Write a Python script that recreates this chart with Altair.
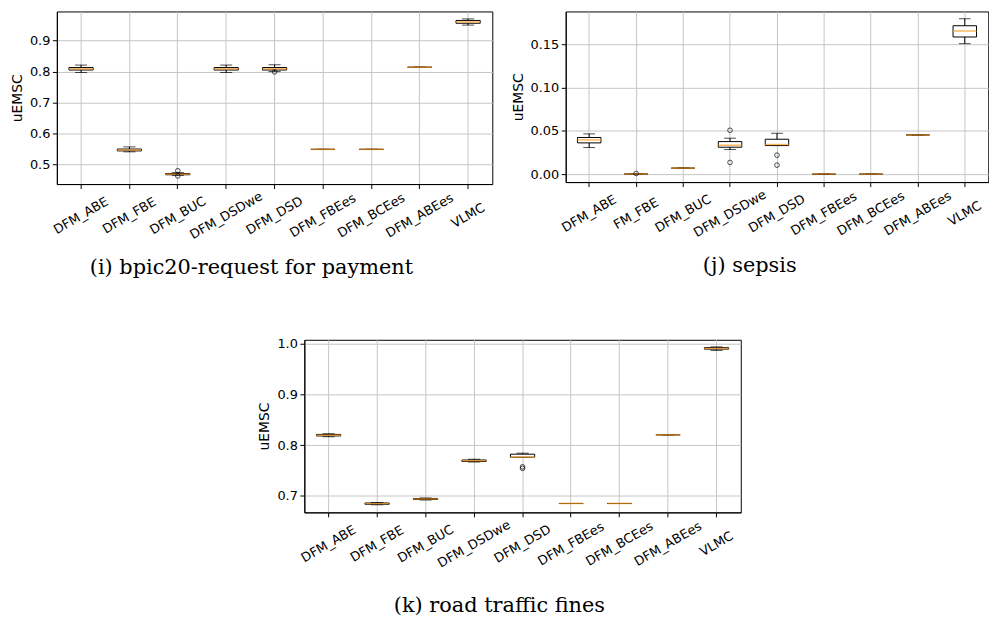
import altair as alt
import pandas as pd

methods_a = ["DFM_ABE", "DFM_FBE", "DFM_BUC", "DFM_DSDwe", "DFM_DSD",
             "DFM_FBEes", "DFM_BCEes", "DFM_ABEes", "VLMC"]
methods_b = ["DFM_ABE", "FM_FBE", "DFM_BUC", "DFM_DSDwe", "DFM_DSD",
             "DFM_FBEes", "DFM_BCEes", "DFM_ABEes", "VLMC"]

# (i) bpic20-request for payment
bp_lo = [0.797, 0.541, 0.465, 0.797, 0.800, 0.549, 0.549, 0.814, 0.950]
bp_q1 = [0.805, 0.544, 0.467, 0.805, 0.805, 0.549, 0.549, 0.814, 0.956]
bp_med = [0.809, 0.547, 0.469, 0.809, 0.809, 0.549, 0.549, 0.814, 0.960]
bp_q3 = [0.813, 0.550, 0.471, 0.813, 0.813, 0.549, 0.549, 0.814, 0.965]
bp_hi = [0.821, 0.557, 0.474, 0.821, 0.822, 0.549, 0.549, 0.814, 0.970]
bp_out_m = ["DFM_BUC", "DFM_BUC", "DFM_DSD"]
bp_out_v = [0.480, 0.463, 0.799]

# (j) sepsis
se_lo = [0.0307, 0.0, 0.0069, 0.0284, 0.0330, 0.0, 0.0, 0.0453, 0.1508]
se_q1 = [0.0361, 0.0, 0.0069, 0.0311, 0.0330, 0.0, 0.0, 0.0453, 0.1585]
se_med = [0.0396, 0.0, 0.0069, 0.0334, 0.0342, 0.0, 0.0, 0.0453, 0.1654]
se_q3 = [0.0423, 0.0003, 0.0069, 0.0376, 0.0403, 0.0, 0.0, 0.0453, 0.1715]
se_hi = [0.0465, 0.0003, 0.0069, 0.0415, 0.0472, 0.0, 0.0, 0.0453, 0.1796]
se_out_m = ["FM_FBE", "DFM_DSDwe", "DFM_DSDwe", "DFM_DSD", "DFM_DSD"]
se_out_v = [0.0008, 0.0507, 0.0135, 0.0219, 0.0104]

# (k) road traffic fines
rt_lo = [0.8165, 0.6820, 0.6915, 0.7665, 0.7755, 0.6846, 0.6846, 0.8203, 0.9870]
rt_q1 = [0.8180, 0.6830, 0.6925, 0.7675, 0.7760, 0.6846, 0.6846, 0.8203, 0.9895]
rt_med = [0.8195, 0.6843, 0.6935, 0.7690, 0.7762, 0.6846, 0.6846, 0.8203, 0.9908]
rt_q3 = [0.8210, 0.6855, 0.6945, 0.7705, 0.7820, 0.6846, 0.6846, 0.8203, 0.9925]
rt_hi = [0.8225, 0.6865, 0.6955, 0.7720, 0.7840, 0.6846, 0.6846, 0.8203, 0.9940]
rt_out_m = ["DFM_DSD", "DFM_DSD"]
rt_out_v = [0.7570, 0.7540]

MEDIAN = "#ff9a1f"
GRID = "#c4c4c4"


def panel(methods, lo, q1, med, q3, hi, out_m, out_v, ticks, fmt, domain,
          width, height, caption, cap_offset):
    df = pd.DataFrame({"m": methods, "lo": lo, "q1": q1, "med": med,
                       "q3": q3, "hi": hi})
    dout = pd.DataFrame({"m": out_m, "v": out_v})
    band = width / len(methods)
    x = alt.X("m:N", sort=methods,
              scale=alt.Scale(paddingInner=0, paddingOuter=0),
              axis=alt.Axis(title=None, labelAngle=-30, labelAlign="center",
                            labelBaseline="middle", labelPadding=27,
                            bandPosition=0.5, grid=True))
    yax = alt.Axis(title="uEMSC", values=ticks, format=fmt, grid=True)
    ysc = alt.Scale(domain=domain, nice=False, zero=False)

    def Y(f):
        return alt.Y(f + ":Q", scale=ysc, axis=yax)

    base = alt.Chart(df)
    whisk = base.mark_rule(color="black", strokeWidth=1).encode(
        x=x, y=Y("lo"), y2="hi:Q")
    cap_lo = base.mark_tick(color="black", size=band * 0.25,
                            thickness=1).encode(x=x, y=Y("lo"))
    cap_hi = base.mark_tick(color="black", size=band * 0.25,
                            thickness=1).encode(x=x, y=Y("hi"))
    box = base.mark_bar(fill="white", stroke="black", strokeWidth=1,
                        size=band * 0.5).encode(x=x, y=Y("q1"), y2="q3:Q")
    medl = base.mark_tick(color=MEDIAN, size=band * 0.5,
                          thickness=1.5).encode(x=x, y=Y("med"))
    outl = alt.Chart(dout).mark_point(shape="circle", filled=False,
                                      color="black", size=22,
                                      strokeWidth=1).encode(
        x=x, y=alt.Y("v:Q", scale=ysc, axis=yax))
    return alt.layer(whisk, cap_lo, cap_hi, box, medl, outl).properties(
        width=width, height=height,
        title=alt.TitleParams(caption, orient="bottom", font="DejaVu Serif",
                              fontSize=21, fontWeight="normal", color="black",
                              offset=cap_offset, anchor="middle",
                              frame="bounds"))


p1 = panel(methods_a, bp_lo, bp_q1, bp_med, bp_q3, bp_hi, bp_out_m, bp_out_v,
           [0.5, 0.6, 0.7, 0.8, 0.9], ".1f", [0.437, 0.994], 439, 174,
           "(i) bpic20-request for payment", 16)
p2 = panel(methods_b, se_lo, se_q1, se_med, se_q3, se_hi, se_out_m, se_out_v,
           [0.0, 0.05, 0.10, 0.15], ".2f", [-0.0092, 0.188], 426, 172,
           "(j) sepsis", 16)
p3 = panel(methods_a, rt_lo, rt_q1, rt_med, rt_q3, rt_hi, rt_out_m, rt_out_v,
           [0.7, 0.8, 0.9, 1.0], ".1f", [0.667, 1.008], 440, 174,
           "(k) road traffic fines", 25)

row1 = alt.hconcat(p1, p2, spacing=17)
chart = alt.vconcat(row1, p3, spacing=58, center=True).properties(
    padding={"left": 2, "top": 0, "right": 0, "bottom": 0}
).configure_axis(
    domainColor="black", tickColor="black", labelColor="black",
    labelFont="DejaVu Sans", labelFontSize=13, titleFont="DejaVu Sans",
    titleFontSize=14, titleFontWeight="normal", titleColor="black",
    tickSize=4.5, labelPadding=2.5, titlePadding=5, gridColor=GRID, gridWidth=1
).configure_axisX(labelPadding=27).configure_view(
    stroke="black", strokeWidth=1
)

chart.save("out.html", embed_options={"renderer": "svg", "actions": False})
